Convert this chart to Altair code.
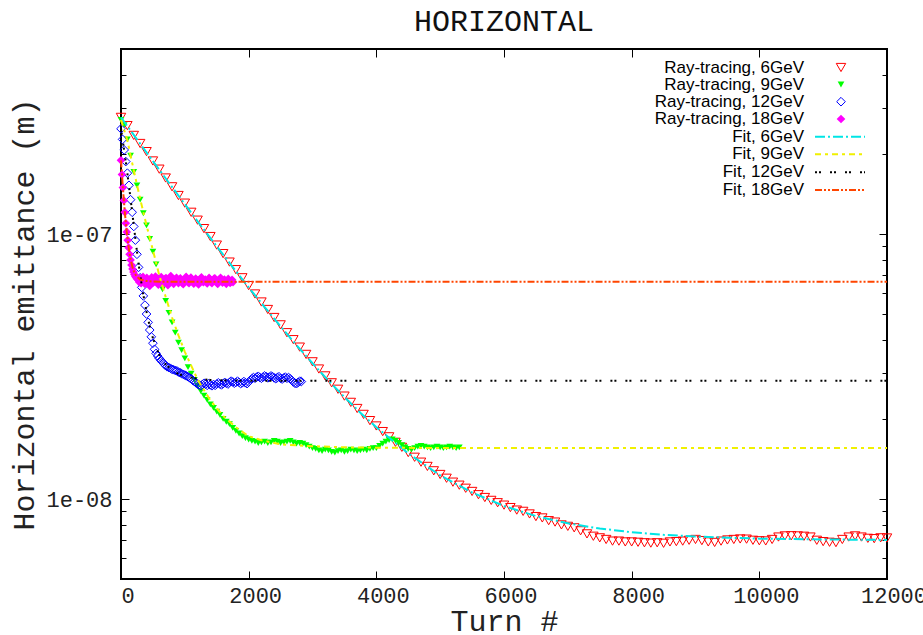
import altair as alt
import pandas as pd

UNIT = 1e-9  # all emittance values below are given in units of 1e-9 m

names = ["Ray-tracing, 6GeV", "Ray-tracing, 9GeV", "Ray-tracing, 12GeV", "Ray-tracing, 18GeV",
         "Fit, 6GeV", "Fit, 9GeV", "Fit, 12GeV", "Fit, 18GeV"]
colors = ["#ff0000", "#00ff00", "#0000ff", "#ff00ff", "#00e5e5", "#f0f000", "#000000", "#ff4500"]

# Ray-tracing 6 GeV, one point every 100 turns
rt6_step = 100
rt6 = [276, 257, 236, 220, 205, 189, 176, 163, 151, 140, 131, 121, 113, 105, 98, 91, 84.5, 78.5, 73.5, 68.5,
       64, 59.5, 55.5, 52, 48.5, 45.5, 42.5, 40, 37.5, 35.2, 33.0, 31.0, 29.2, 27.5, 26.0, 24.5, 23.2, 22.0,
       20.9, 19.8, 18.9, 18.0, 17.2, 16.4, 15.7, 15.0, 14.4, 13.8, 13.3, 12.8, 12.4, 12.0, 11.6, 11.3, 11.0,
       10.7, 10.4, 10.15, 9.9, 9.7,
       9.5, 9.3, 9.1, 9.0, 8.8, 8.6, 8.5, 8.3, 8.2, 8.0, 7.9, 7.8, 7.6, 7.4, 7.25, 7.15, 7.05, 6.95, 6.95, 6.9,
       6.9, 6.88, 6.85, 6.83, 6.85, 6.82, 6.9, 6.92, 6.95, 7.0, 7.05, 6.98, 6.9, 6.87, 6.95, 7.02, 7.05, 7.08,
       7.07, 7.0, 6.97, 6.96, 7.05, 7.2, 7.27, 7.28, 7.27, 7.25, 7.2, 7.0, 6.92, 6.88, 6.86, 7.05, 7.2, 7.27,
       7.2, 7.12, 7.1, 7.15, 7.14]

# Ray-tracing 9 GeV, one point every 50 turns
rt9_step = 50
rt9 = [270, 258, 228, 198, 172, 153, 135, 120, 108, 96, 86, 77, 68.5, 62, 56, 50.5, 46.5, 42.5, 39, 36.5,
       34, 31.5, 29.8, 28.2, 26.8, 25.6, 24.6, 23.7, 22.8, 22.1, 21.4, 20.8, 20.1, 19.6, 19.2, 18.6, 18.1,
       17.7, 17.3, 17.0, 16.8, 16.6, 16.5, 16.3, 16.4, 16.5, 16.3, 16.4, 16.6, 16.5, 16.3, 16.4, 16.5, 16.6,
       16.4, 16.2, 16.3, 16.2, 16.0, 15.8, 15.6, 15.5, 15.3, 15.2, 15.4, 15.3, 15.1, 15.0, 15.2, 15.3, 15.1,
       15.2, 15.4, 15.3, 15.2, 15.3, 15.4, 15.3, 15.5, 15.6, 15.6, 15.9, 16.2, 16.5, 16.7, 16.8, 16.6, 16.3,
       16.0, 15.7, 15.5, 15.4, 15.6, 15.8, 15.9, 15.8, 15.7, 15.6, 15.7, 15.8, 15.7, 15.6, 15.7, 15.8, 15.7,
       15.6, 15.7]

# Ray-tracing 12 GeV, one point every 25 turns
rt12_step = 25
rt12 = [250, 228, 208, 188, 170, 153, 135, 121, 107, 95, 84, 75, 68.5, 63, 58.5, 54, 50, 46.5, 43.5, 41,
        38.8, 36.8, 35.5, 34.7, 34.0, 33.4, 32.9, 32.4, 31.9, 31.6, 31.4, 31.2, 30.9, 30.8, 30.6, 30.5, 30.2,
        30.0, 29.8, 29.6, 29.4, 29.2, 29.0, 28.7, 28.5, 28.1, 27.8, 27.5, 27.2,
        27.0, 26.8, 27.1, 27.4, 27.2, 26.9, 27.3, 27.0, 26.8, 27.1, 26.9, 27.2, 27.5, 27.2, 27.0, 27.3, 27.6,
        27.4, 27.2, 27.6, 27.9, 27.7, 27.4, 27.6, 27.9, 27.6, 27.3, 27.5, 27.8, 27.5, 27.3, 27.7, 28.1, 28.5,
        28.8, 28.6, 28.9, 29.1, 28.8, 28.6, 28.9, 29.2, 29.0, 28.7, 28.9, 29.2, 29.0, 28.7, 28.5, 28.8, 29.0,
        28.6, 28.4, 28.7, 28.9, 28.6, 28.8, 28.5, 28.1, 27.7, 27.4, 27.3, 27.6, 27.9, 27.8]

# Ray-tracing 18 GeV, one point every 15 turns
rt18_step = 15
rt18 = [190, 168, 150, 134, 121, 110, 102, 95, 89, 84, 80, 76.5, 74, 72, 70.5, 69.3, 68.5, 67.8,
        67.2, 66.0, 68.1, 65.3, 66.8, 69.0, 67.5, 64.9, 66.2, 68.4, 67.0, 65.6, 63.8, 66.9, 68.7, 67.3,
        65.9, 66.4, 69.2, 67.8, 66.1, 64.5, 65.8, 67.6, 68.9, 66.7, 65.2, 66.3, 67.9, 68.3, 66.6, 64.2,
        65.7, 67.1, 69.5, 68.0, 66.5, 65.0, 66.0, 67.7, 68.5, 67.2, 65.4, 66.8, 68.2, 67.0, 65.5, 64.8,
        66.4, 67.9, 69.1, 67.4, 66.0, 65.3, 66.9, 68.6, 67.5, 66.2, 65.1, 66.7, 68.0, 67.3, 65.8, 64.6,
        66.1, 67.8, 68.8, 67.1, 65.9, 66.6, 67.4, 66.3, 65.2, 66.9, 68.4, 67.6, 66.0, 65.4, 66.5, 67.9,
        68.2, 66.8, 65.6, 64.9, 66.3, 67.7, 68.5, 67.0, 65.7, 66.4, 67.5, 66.1, 65.0, 66.6, 67.8, 66.9,
        65.5, 66.2, 67.3, 66.0]

# Fits
fit6_turn = [0, 250, 500, 750, 1000, 1250, 1500, 1750, 2000, 2250, 2500, 2750, 3000, 3250, 3500, 3750, 4000,
             4500, 5000, 5500, 6000, 6500, 7000, 7500, 8000, 8500, 9000, 9500, 10000, 11000, 12000]
fit6 = [276, 228.1, 188.8, 156.4, 129.8, 107.9, 90.0, 75.2, 63.0, 53.1, 44.9, 38.1, 32.6, 28.0, 24.3, 21.2,
        18.7, 14.9, 12.3, 10.6, 9.43, 8.64, 8.11, 7.75, 7.51, 7.34, 7.23, 7.16, 7.10, 7.05, 7.02]
fit9_turn = [0, 100, 200, 300, 400, 500, 600, 700, 800, 900, 1000, 1200, 1400, 1600, 1800, 2000, 2200, 2500,
             3000, 3500, 4000, 5000, 6000, 12000]
fit9 = [270, 226, 174, 136, 108, 87, 70, 58, 48.5, 41.5, 36, 28.3, 23.6, 20.6, 18.7, 17.3, 16.7, 16.1,
        15.85, 15.7, 15.65, 15.6, 15.6, 15.6]
fit12_turn = [0, 50, 100, 150, 200, 250, 300, 350, 400, 450, 500, 600, 700, 800, 900, 1000, 1200, 1400,
              1700, 2000, 12000]
fit12 = [250, 207, 170, 136, 108, 86, 70, 59, 51, 45, 40.5, 35, 32.3, 30.7, 29.7, 29.1, 28.5, 28.2, 28.05,
         28.0, 28.0]
fit18_turn = [0, 15, 30, 45, 60, 90, 120, 150, 180, 210, 240, 300, 400, 500, 700, 12000]
fit18 = [190, 168, 149, 134, 121, 102, 89, 80.5, 75, 71.5, 69.5, 67.5, 66.6, 66.3, 66.2, 66.2]

x_ticks = [0, 2000, 4000, 6000, 8000, 10000, 12000]
y_major = [1e-8, 1e-7]
y_minor = [6e-9, 7e-9, 8e-9, 9e-9, 2e-8, 3e-8, 4e-8, 5e-8, 6e-8, 7e-8, 8e-8, 9e-8, 2e-7, 3e-7, 4e-7]
fit_dashes = [[10, 3, 2, 3], [6, 4, 3, 4], [2, 2, 2, 9], [7, 2, 2, 2, 2, 2]]


def frame(turns, vals, name):
    return pd.DataFrame({"turn": turns, "emit": [v * UNIT for v in vals], "series": name})


def regular(vals, step, name):
    return frame([i * step for i in range(len(vals))], vals, name)


d_rt6 = regular(rt6, rt6_step, names[0])
d_rt9 = regular(rt9, rt9_step, names[1])
d_rt12 = regular(rt12, rt12_step, names[2])
d_rt18 = regular(rt18, rt18_step, names[3])
d_fits = [frame(fit6_turn, fit6, names[4]), frame(fit9_turn, fit9, names[5]),
          frame(fit12_turn, fit12, names[6]), frame(fit18_turn, fit18, names[7])]

MONO = "Liberation Mono"
SANS = "Liberation Sans"

x_scale = alt.Scale(domain=[0, 12000], nice=False, zero=False)
y_scale = alt.Scale(type="log", domain=[5e-9, 5e-7], nice=False)

LEG_COMMON = dict(title=None, orient="none", padding=0, labelFont=SANS, labelFontSize=17,
                  labelColor="black", labelAlign="right", labelLimit=400, symbolOffset=0)
point_rows = [10, 27, 44.2, 61.5]
fit_rows = [61.7, 79.3, 97.3, 115]


def point_legend(row, size):
    return alt.Legend(legendX=711.5, legendY=point_rows[row], symbolSize=size, symbolStrokeWidth=1,
                      labelOffset={"expr": "-45.5"}, **LEG_COMMON)


def fit_legend(row):
    return alt.Legend(legendX=693, legendY=fit_rows[row], symbolType="stroke", symbolSize=2500,
                      symbolStrokeWidth=2, symbolDash=fit_dashes[row],
                      labelOffset={"expr": "-62"}, **LEG_COMMON)


def one_color(i, leg):
    return alt.Color("series:N", scale=alt.Scale(domain=[names[i]], range=[colors[i]]), legend=leg)


def tick_axis(orient, values, size, labels=False, **kw):
    return alt.Axis(orient=orient, values=values, offset=-size, tickSize=size, tickColor="black",
                    tickWidth=1, domain=False, grid=False, labels=labels, **kw)


x_bottom = tick_axis("bottom", x_ticks, 8, labels=True, format="d", labelFont=MONO, labelFontSize=22,
                     labelColor="#222222", labelPadding=6, labelOffset=6.5, labelFlush=False,
                     labelOverlap=False, title="Turn #", titleFont=MONO, titleFontSize=30,
                     titleFontWeight="normal", titleColor="#222222", titleBaseline="top",
                     titleY=35)
x_top = tick_axis("top", x_ticks, 8, title=None)
y_left = tick_axis("left", y_major, 8, labels=True,
                   labelExpr="replace(format(datum.value, '.0e'), 'e-', 'e-0')",
                   labelFont=MONO, labelFontSize=22, labelColor="#222222", labelPadding=9,
                   title="Horizontal emittance (m)", titleFont=MONO, titleFontSize=30,
                   titleFontWeight="normal", titleColor="#222222", titleAngle=270,
                   titleBaseline="alphabetic", titleAlign="center", titleX=-96, titleY=265)
y_left_minor = tick_axis("left", y_minor, 5, title=None)
y_right = tick_axis("right", y_major, 8, title=None)
y_right_minor = tick_axis("right", y_minor, 5, title=None)

l1 = alt.Chart(d_rt6).mark_point(shape="triangle-down", filled=False, size=90, strokeWidth=1, opacity=1).encode(
    x=alt.X("turn:Q", scale=x_scale, axis=x_bottom),
    y=alt.Y("emit:Q", scale=y_scale, axis=y_left),
    color=one_color(0, point_legend(0, 90)),
)
l2 = alt.Chart(d_rt9).mark_point(shape="triangle-down", filled=True, size=45, opacity=1).encode(
    x=alt.X("turn:Q", scale=x_scale, axis=x_top),
    y=alt.Y("emit:Q", scale=y_scale, axis=y_left_minor),
    color=one_color(1, point_legend(1, 45)),
)
l3 = alt.Chart(d_rt12).mark_point(shape="diamond", filled=False, size=75, strokeWidth=1, opacity=1).encode(
    x=alt.X("turn:Q", scale=x_scale, axis=None),
    y=alt.Y("emit:Q", scale=y_scale, axis=y_right),
    color=one_color(2, point_legend(2, 75)),
)
l4 = alt.Chart(d_rt18).mark_point(shape="diamond", filled=True, size=75, opacity=1).encode(
    x=alt.X("turn:Q", scale=x_scale, axis=None),
    y=alt.Y("emit:Q", scale=y_scale, axis=y_right_minor),
    color=one_color(3, point_legend(3, 75)),
)
fit_layers = [
    alt.Chart(d_fits[k]).mark_line(strokeWidth=2, opacity=1, strokeDash=fit_dashes[k]).encode(
        x=alt.X("turn:Q", scale=x_scale, axis=None),
        y=alt.Y("emit:Q", scale=y_scale, axis=None),
        color=one_color(4 + k, fit_legend(k)),
    )
    for k in range(4)
]

chart = alt.layer(l1, l2, l3, l4, *fit_layers).resolve_axis(
    x="independent", y="independent"
).resolve_scale(color="independent").properties(
    width=766, height=530,
    title=alt.TitleParams("HORIZONTAL", font=MONO, fontSize=30, fontWeight="normal", color="#111111",
                          anchor="middle", offset=19, dy=31, baseline="alphabetic"),
    autosize=alt.AutoSizeParams(type="none"),
    padding={"left": 121, "top": 49, "right": 36, "bottom": 56},
    background="white",
).configure_view(stroke="black", strokeWidth=2)

chart.save("out.html", embed_options={"renderer": "svg", "actions": False})
